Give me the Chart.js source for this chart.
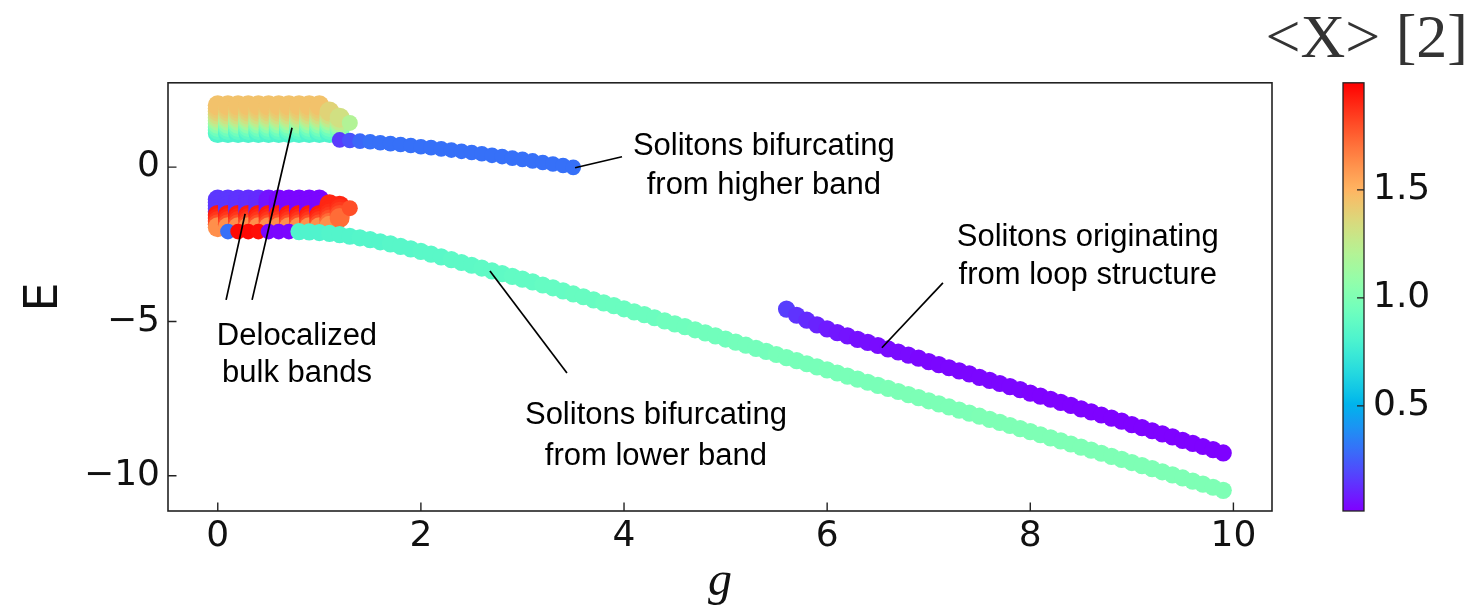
<!DOCTYPE html>
<html><head><meta charset="utf-8">
<script src="https://cdn.jsdelivr.net/npm/chart.js@4.4.0/dist/chart.umd.min.js"></script>
<style>html,body{margin:0;padding:0;background:#fff;overflow:hidden}</style>
</head><body>
<canvas id="c" width="1474" height="616"></canvas>
<script>
// ---------------- DATA ----------------
const xTicks = [0, 2, 4, 6, 8, 10];
const yTicks = [-10, -5, 0];
const cbTicks = [0.5, 1.0, 1.5];
const cbRange = [0.014, 1.995];
const xRange = [-0.49, 10.38];
const yRange = [-11.14, 2.73];

// delocalized bulk bands: columns in g, levels in E
const bandG = [0, 0.1, 0.2, 0.3, 0.4, 0.5, 0.6, 0.7, 0.8, 0.9, 1.0];
const upperLevelE = [1.1, 1.2, 1.3, 1.4, 1.5, 1.6, 1.7, 1.8, 1.9, 2.0];
const upperLevelX = [0.82, 0.88, 0.95, 1.05, 1.15, 1.25, 1.32, 1.38, 1.42, 1.45];
const upperTailG = [1.1, 1.1, 1.1, 1.1, 1.1, 1.1, 1.1, 1.1, 1.2, 1.2, 1.2, 1.2, 1.2, 1.3];
const upperTailE = [1.1, 1.2, 1.3, 1.4, 1.5, 1.6, 1.7, 1.8, 1.2, 1.3, 1.4, 1.5, 1.6, 1.43];
const upperTailX = [0.82, 0.88, 0.95, 1.05, 1.15, 1.25, 1.32, 1.38, 0.95, 1.05, 1.15, 1.25, 1.32, 1.2];

const lowerLevelE = [-1.05, -1.15, -1.25, -1.35, -1.45, -1.55, -1.65, -1.75, -1.85, -1.95];
const lowerTopX = [0.15, 0.15, 0.14, 0.13, 0.12, 0.06, 0.03, 0.03, 0.03, 0.03, 0.03];
const lowerLevelX = [null, null, null, null, null, 1.93, 1.9, 1.86, 1.8, 1.62];
const lowerTailG = [1.1, 1.1, 1.1, 1.1, 1.1, 1.1, 1.1, 1.1, 1.2, 1.2, 1.2, 1.2, 1.2, 1.3];
const lowerTailE = [-1.2, -1.3, -1.4, -1.5, -1.6, -1.7, -1.8, -1.9, -1.25, -1.35, -1.45, -1.55, -1.65, -1.33];
const lowerTailX = [1.9, 1.9, 1.9, 1.88, 1.85, 1.8, 1.72, 1.62, 1.9, 1.88, 1.85, 1.8, 1.72, 1.8];

// short row just below the lower band
const rowG = [0.1, 0.2, 0.3, 0.4, 0.5, 0.6, 0.7];
const rowE = [-2.09, -2.09, -2.09, -2.09, -2.09, -2.09, -2.09];
const rowX = [0.3, 1.97, 1.97, 1.96, 0.03, 0.03, 0.03];

// solitons bifurcating from higher band
const blueG = [1.2, 1.3, 1.4, 1.5, 1.6, 1.7, 1.8, 1.9, 2.0, 2.1, 2.2, 2.3, 2.4, 2.5, 2.6, 2.7, 2.8, 2.9, 3.0, 3.1, 3.2, 3.3, 3.4, 3.5];
const blueE = [0.88, 0.86, 0.84, 0.82, 0.79, 0.76, 0.73, 0.70, 0.66, 0.63, 0.59, 0.55, 0.51, 0.47, 0.43, 0.38, 0.34, 0.29, 0.25, 0.20, 0.15, 0.10, 0.05, -0.01];
const blueX = [0.16, 0.22, 0.28, 0.3, 0.3, 0.3, 0.3, 0.3, 0.3, 0.3, 0.3, 0.3, 0.3, 0.3, 0.3, 0.3, 0.3, 0.3, 0.3, 0.3, 0.3, 0.3, 0.3, 0.3];

// solitons bifurcating from lower band
const greenG = [0.8, 0.9, 1.0, 1.1, 1.2, 1.3, 1.4, 1.5, 1.6, 1.7, 1.8, 1.9, 2.0, 2.1, 2.2, 2.3, 2.4, 2.5, 2.6, 2.7,
  2.8, 2.9, 3.0, 3.1, 3.2, 3.3, 3.4, 3.5, 3.6, 3.7, 3.8, 3.9, 4.0, 4.1, 4.2, 4.3, 4.4, 4.5, 4.6, 4.7,
  4.8, 4.9, 5.0, 5.1, 5.2, 5.3, 5.4, 5.5, 5.6, 5.7, 5.8, 5.9, 6.0, 6.1, 6.2, 6.3, 6.4, 6.5, 6.6, 6.7,
  6.8, 6.9, 7.0, 7.1, 7.2, 7.3, 7.4, 7.5, 7.6, 7.7, 7.8, 7.9, 8.0, 8.1, 8.2, 8.3, 8.4, 8.5, 8.6, 8.7,
  8.8, 8.9, 9.0, 9.1, 9.2, 9.3, 9.4, 9.5, 9.6, 9.7, 9.8, 9.9];
const greenE = [-2.09, -2.10, -2.12, -2.15, -2.19, -2.24, -2.29, -2.35, -2.42, -2.49, -2.57, -2.65, -2.73, -2.82, -2.91, -3.00, -3.09, -3.18, -3.27, -3.36,
  -3.45, -3.54, -3.63, -3.72, -3.82, -3.91, -4.01, -4.11, -4.20, -4.30, -4.40, -4.49, -4.59, -4.69, -4.78, -4.88, -4.98, -5.08, -5.17, -5.27,
  -5.37, -5.47, -5.57, -5.67, -5.77, -5.87, -5.97, -6.07, -6.17, -6.27, -6.37, -6.47, -6.57, -6.67, -6.77, -6.87, -6.97, -7.07, -7.17, -7.27,
  -7.37, -7.47, -7.57, -7.67, -7.77, -7.87, -7.97, -8.07, -8.17, -8.27, -8.37, -8.47, -8.57, -8.67, -8.77, -8.87, -8.97, -9.07, -9.17, -9.27,
  -9.37, -9.47, -9.57, -9.67, -9.77, -9.87, -9.97, -10.07, -10.17, -10.27, -10.37, -10.47];
const greenX = [0.82, 0.82, 0.82, 0.83, 0.83, 0.83, 0.84, 0.84, 0.84, 0.85, 0.85, 0.85, 0.86, 0.86, 0.86, 0.87, 0.87, 0.87, 0.88, 0.88,
  0.88, 0.89, 0.89, 0.89, 0.90, 0.90, 0.90, 0.91, 0.91, 0.91, 0.92, 0.92, 0.92, 0.93, 0.93, 0.93, 0.94, 0.94, 0.94, 0.95,
  0.95, 0.95, 0.95, 0.96, 0.96, 0.96, 0.96, 0.97, 0.97, 0.97, 0.97, 0.97, 0.98, 0.98, 0.98, 0.98, 0.98, 0.98, 0.99, 0.99,
  0.99, 0.99, 0.99, 0.99, 0.99, 0.99, 0.99, 1.0, 1.0, 1.0, 1.0, 1.0, 1.0, 1.0, 1.0, 1.0, 1.0, 1.0, 1.0, 1.0,
  1.0, 1.0, 1.0, 1.0, 1.0, 1.0, 1.0, 1.0, 1.0, 1.0, 1.0, 1.0];

// solitons originating from loop structure
const purpleG = [5.6, 5.7, 5.8, 5.9, 6.0, 6.1, 6.2, 6.3, 6.4, 6.5, 6.6, 6.7, 6.8, 6.9, 7.0, 7.1, 7.2, 7.3, 7.4, 7.5, 7.6, 7.7,
  7.8, 7.9, 8.0, 8.1, 8.2, 8.3, 8.4, 8.5, 8.6, 8.7, 8.8, 8.9, 9.0, 9.1, 9.2, 9.3, 9.4, 9.5, 9.6, 9.7, 9.8, 9.9];
const purpleE = [-4.60, -4.80, -4.96, -5.11, -5.24, -5.36, -5.47, -5.58, -5.68, -5.78, -5.89, -5.99, -6.09, -6.19, -6.30, -6.40, -6.50, -6.60, -6.70, -6.81, -6.91, -7.01,
  -7.11, -7.21, -7.32, -7.42, -7.52, -7.62, -7.72, -7.83, -7.93, -8.03, -8.13, -8.23, -8.34, -8.44, -8.54, -8.64, -8.74, -8.85, -8.95, -9.05, -9.15, -9.26];
const purpleX = [0.17, 0.14, 0.12, 0.10, 0.08, 0.07, 0.06, 0.05, 0.05, 0.04, 0.04, 0.04, 0.04, 0.03, 0.03, 0.03, 0.03, 0.03, 0.03, 0.03, 0.03, 0.03,
  0.03, 0.03, 0.02, 0.02, 0.02, 0.02, 0.02, 0.02, 0.02, 0.02, 0.02, 0.02, 0.02, 0.02, 0.02, 0.02, 0.02, 0.02, 0.02, 0.02, 0.02, 0.02];

// annotation texts (centre in data coords) and pointer lines
const notes = [
  {lines: ['Solitons bifurcating', 'from higher band'], at: [5.377, 0.658, -0.606], ptr: [3.518, -0.023, 3.98, 0.334]},
  {lines: ['Solitons originating', 'from loop structure'], at: [8.566, -2.293, -3.524], ptr: [6.539, -5.853, 7.14, -3.75]},
  {lines: ['Delocalized', 'bulk bands'], at: [0.78, -5.47, -6.70], ptr: [0.082, -4.303, 0.269, -1.514, 0.338, -4.303, 0.731, 1.274]},
  {lines: ['Solitons bifurcating', 'from lower band'], at: [4.314, -8.03, -9.36], ptr: [2.680, -3.363, 3.438, -6.67]}
];
const titleText = '<X> [2]';

// ---------------- colour map (matplotlib "rainbow") ----------------
function rainbow(t) {
  t = Math.min(1, Math.max(0, t));
  const r = Math.min(1, Math.abs(2 * t - 0.5)), g = Math.sin(Math.PI * t), b = Math.cos(Math.PI * t / 2);
  return `rgb(${Math.round(r * 255)},${Math.round(g * 255)},${Math.round(b * 255)})`;
}
const col = v => rainbow((v - cbRange[0]) / (cbRange[1] - cbRange[0]));

// ---------------- build point tables ----------------
const upperPts = [];
bandG.forEach(g => upperLevelE.forEach((E, i) => upperPts.push({x: g, y: E, v: upperLevelX[i], r: 10})));
upperTailG.forEach((g, i) => upperPts.push({x: g, y: upperTailE[i], v: upperTailX[i], r: i === upperTailG.length - 1 ? 8 : 10}));

const lowerPts = [];
bandG.forEach((g, c) => lowerLevelE.forEach((E, i) => lowerPts.push({x: g, y: E, v: lowerLevelX[i] === null ? lowerTopX[c] : lowerLevelX[i], r: 10})));
lowerTailG.forEach((g, i) => lowerPts.push({x: g, y: lowerTailE[i], v: lowerTailX[i], r: i === lowerTailG.length - 1 ? 8 : 10}));

const mk = (gs, es) => gs.map((g, i) => ({x: g, y: es[i]}));

function ds(data, colors, radius, order) {
  return {data, order, pointBackgroundColor: colors, pointRadius: radius, pointBorderWidth: 0,
    pointBorderColor: 'rgba(0,0,0,0)', showLine: false, pointHoverRadius: radius};
}

const datasets = [
  ds(mk(greenG, greenE), greenX.map(col), 8.6, 0),
  ds(mk(rowG, rowE), rowX.map(col), 7.8, 1),
  ds(lowerPts.map(p => ({x: p.x, y: p.y})), lowerPts.map(p => col(p.v)), lowerPts.map(p => p.r), 2),
  ds(mk(purpleG, purpleE), purpleX.map(col), 8.6, 3),
  ds(mk(blueG, blueE), blueX.map(col), 7.8, 4),
  ds(upperPts.map(p => ({x: p.x, y: p.y})), upperPts.map(p => col(p.v)), upperPts.map(p => p.r), 5)
];

const tickFont = {family: "'DejaVu Sans'", size: 36};
const fmt = v => (v < 0 ? '\u2212' + Math.abs(v) : String(v));
const noPad = s => { s.paddingTop = 0; s.paddingBottom = 0; s.paddingLeft = 0; s.paddingRight = 0; };

const decor = {
  id: 'decor',
  afterDatasetsDraw(chart) {
    const {ctx, chartArea: a, scales: {x, y, cb}} = chart;
    ctx.save();
    ctx.strokeStyle = '#222'; ctx.lineWidth = 1.6;
    ctx.strokeRect(a.left, a.top, a.right - a.left, a.bottom - a.top);
    ctx.lineWidth = 1.4; ctx.beginPath();
    x.ticks.forEach(t => { const p = x.getPixelForValue(t.value); ctx.moveTo(p, a.bottom); ctx.lineTo(p, a.bottom - 8.5); });
    y.ticks.forEach(t => { const p = y.getPixelForValue(t.value); ctx.moveTo(a.left, p); ctx.lineTo(a.left + 8.5, p); });
    ctx.stroke();
    ctx.strokeStyle = '#000'; ctx.lineWidth = 1.7;
    notes.forEach(n => {
      ctx.beginPath();
      for (let i = 0; i < n.ptr.length; i += 4) {
        ctx.moveTo(x.getPixelForValue(n.ptr[i]), y.getPixelForValue(n.ptr[i + 1]));
        ctx.lineTo(x.getPixelForValue(n.ptr[i + 2]), y.getPixelForValue(n.ptr[i + 3]));
      }
      ctx.stroke();
      ctx.fillStyle = '#000'; ctx.font = "31px 'Liberation Sans'"; ctx.textAlign = 'center'; ctx.textBaseline = 'middle';
      n.lines.forEach((s, k) => ctx.fillText(s, x.getPixelForValue(n.at[0]), y.getPixelForValue(n.at[1 + k])));
    });
    const top = cb.getPixelForValue(cbRange[1]), bot = cb.getPixelForValue(cbRange[0]);
    const L = a.right + 71, W = 21;
    const grad = ctx.createLinearGradient(0, bot, 0, top);
    for (let i = 0; i <= 60; i++) grad.addColorStop(i / 60, rainbow(i / 60));
    ctx.fillStyle = grad; ctx.fillRect(L, top, W, bot - top);
    ctx.strokeStyle = '#222'; ctx.lineWidth = 1.3; ctx.strokeRect(L, top, W, bot - top);
    ctx.beginPath();
    cb.ticks.forEach(t => { const p = cb.getPixelForValue(t.value); ctx.moveTo(L + W, p); ctx.lineTo(L + W - 7, p); });
    ctx.stroke();
    ctx.restore();
  }
};

new Chart(document.getElementById('c'), {
  type: 'scatter',
  data: {datasets},
  options: {
    responsive: false, animation: false, devicePixelRatio: 1, events: [],
    layout: {padding: {right: 6}},
    plugins: {
      legend: {display: false}, tooltip: {enabled: false},
      title: {display: true, text: titleText, align: 'end', color: '#333',
        font: {family: "'Liberation Serif'", size: 62, weight: 'normal', lineHeight: 1.0}, padding: {top: 10, bottom: 10.8}}
    },
    scales: {
      x: {type: 'linear', position: 'bottom', min: xRange[0], max: xRange[1],
        grid: {display: false, drawTicks: false}, border: {display: false},
        afterBuildTicks: s => { s.ticks = xTicks.map(v => ({value: v})); },
        afterFit: s => { s.height = 105; noPad(s); },
        ticks: {font: tickFont, color: '#111', padding: 4, maxRotation: 0, autoSkip: false, callback: fmt},
        title: {display: true, text: 'g', color: '#111', font: {family: "'Liberation Serif'", size: 48, style: 'italic', lineHeight: 1.2}, padding: {top: 0, bottom: 5}}
      },
      y: {type: 'linear', position: 'left', min: yRange[0], max: yRange[1],
        grid: {display: false, drawTicks: false}, border: {display: false},
        afterBuildTicks: s => { s.ticks = yTicks.map(v => ({value: v})); },
        afterFit: s => { s.width = 168; noPad(s); },
        ticks: {font: tickFont, color: '#111', padding: 8, autoSkip: false, callback: fmt},
        title: {display: true, text: 'E', color: '#111', font: {family: "'DejaVu Sans'", size: 46, lineHeight: 1.2}, padding: {top: 17, bottom: 0}}
      },
      cb: {type: 'linear', position: 'right', min: cbRange[0], max: cbRange[1],
        grid: {display: false, drawTicks: false}, border: {display: false},
        afterBuildTicks: s => { s.ticks = cbTicks.map(v => ({value: v})); },
        afterFit: s => { s.width = 196; noPad(s); },
        ticks: {font: tickFont, color: '#111', padding: 101, autoSkip: false, callback: v => v.toFixed(1)}
      }
    }
  },
  plugins: [decor]
});
</script>
</body></html>
